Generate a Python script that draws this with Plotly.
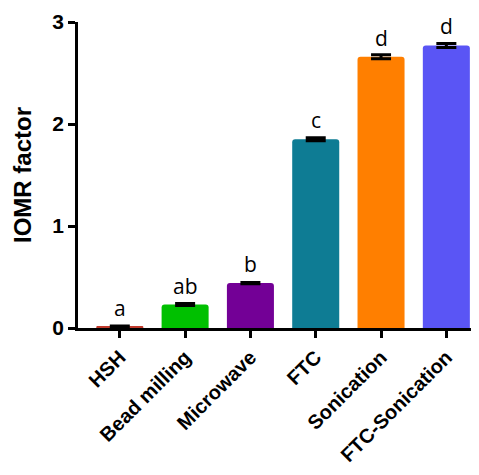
import plotly.graph_objects as go

categories = ["HSH", "Bead milling", "Microwave", "FTC", "Sonication", "FTC-Sonication"]
values = [0.01, 0.23, 0.44, 1.85, 2.66, 2.77]
errors = [0.01, 0.01, 0.005, 0.015, 0.02, 0.02]
letters = ["a", "ab", "b", "c", "d", "d"]
colors = ["#c0392b", "#00c000", "#730096", "#0e7c94", "#ff7f00", "#5a55f5"]
y_ticks = [0, 1, 2, 3]

fig = go.Figure()
fig.add_trace(go.Bar(
    x=list(range(len(categories))), y=values,
    marker=dict(color=colors, line=dict(width=0), cornerradius=3),
    width=0.72,
    error_y=dict(type="data", array=errors, color="black", thickness=3, width=10),
))
for i, (v, e, t) in enumerate(zip(values, errors, letters)):
    fig.add_annotation(x=i, y=v, text=t, showarrow=False, yanchor="bottom",
                       yshift=3, font=dict(family="Open Sans", size=21, color="black"))

fig.update_layout(
    width=479, height=475,
    margin=dict(l=70, r=8, t=14, b=155),
    plot_bgcolor="white", paper_bgcolor="white",
    showlegend=False,
    font=dict(family="Liberation Sans", color="black"),
)
fig.update_xaxes(
    range=[-0.64, 5.5], tickmode="array", tickvals=list(range(len(categories))),
    ticktext=["<b>%s</b>" % c for c in categories], tickangle=-45,
    tickfont=dict(size=20, family="Liberation Sans"),
    showline=True, linecolor="black", linewidth=2.5,
    ticks="outside", ticklen=7, tickwidth=2.5, tickcolor="black",
    showgrid=False, zeroline=False, automargin=False,
)
fig.update_yaxes(
    range=[0, 3], tickvals=y_ticks, ticktext=["<b>%d</b>" % t for t in y_ticks],
    tickfont=dict(size=21, family="Liberation Sans"),
    title=dict(text="<b>IOMR factor</b>", font=dict(size=24, family="Liberation Sans"), standoff=14),
    showline=True, linecolor="black", linewidth=2.5,
    ticks="outside", ticklen=7, tickwidth=2.5, tickcolor="black",
    showgrid=False, zeroline=False, automargin=False,
)
fig.write_html("out.html")
